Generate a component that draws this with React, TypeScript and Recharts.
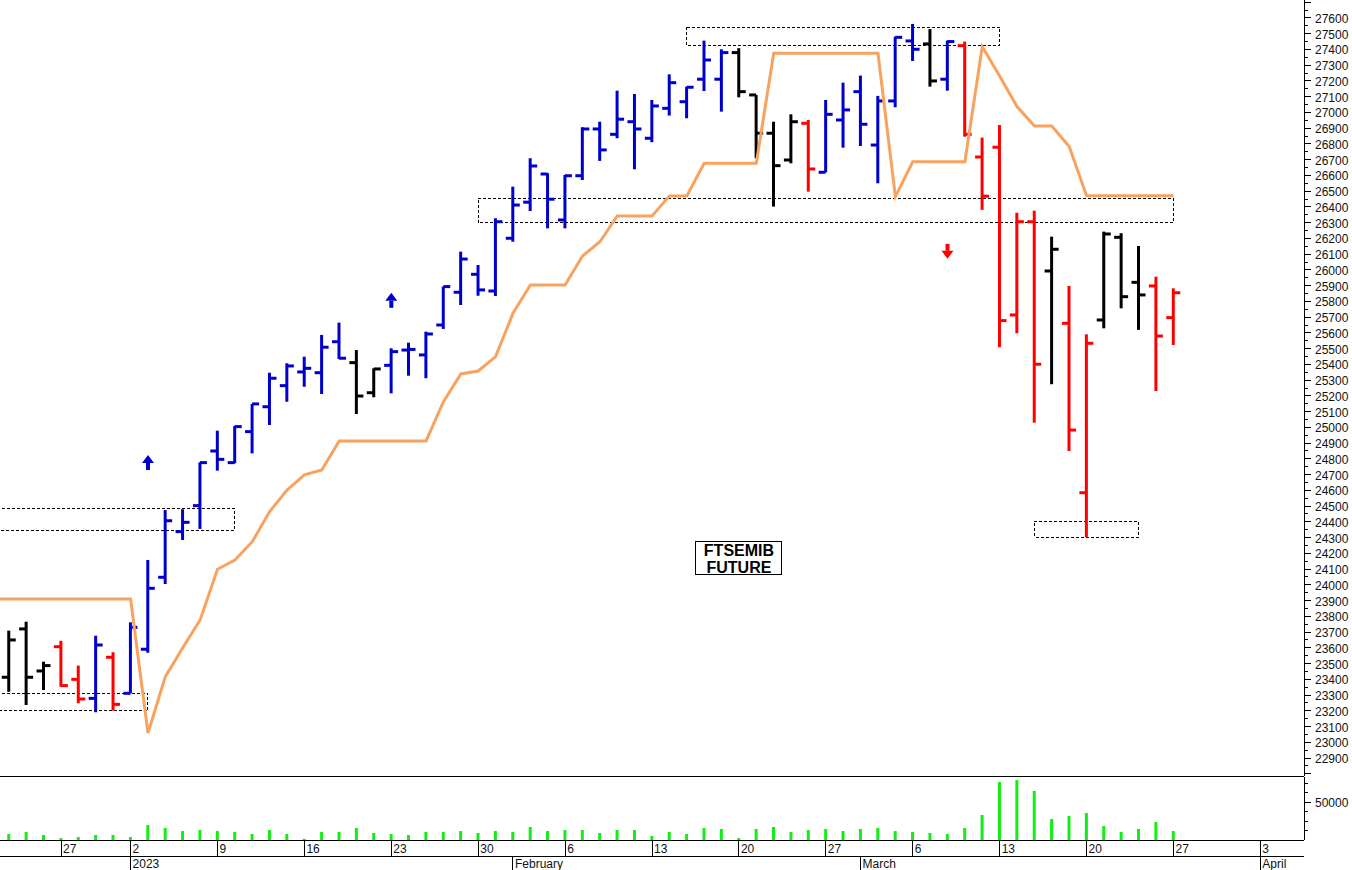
import React from "react";
import {
  ComposedChart,
  Bar,
  Line,
  XAxis,
  YAxis,
  CartesianGrid,
  ReferenceArea,
  ReferenceDot,
} from "recharts";

// ---------------- DATA ----------------
const tradingDays = [
  "2022-12-20", "2022-12-21", "2022-12-22", "2022-12-23", "2022-12-27", "2022-12-28", "2022-12-29", "2022-12-30",
  "2023-01-02", "2023-01-03", "2023-01-04", "2023-01-05", "2023-01-06",
  "2023-01-09", "2023-01-10", "2023-01-11", "2023-01-12", "2023-01-13",
  "2023-01-16", "2023-01-17", "2023-01-18", "2023-01-19", "2023-01-20",
  "2023-01-23", "2023-01-24", "2023-01-25", "2023-01-26", "2023-01-27",
  "2023-01-30", "2023-01-31", "2023-02-01", "2023-02-02", "2023-02-03",
  "2023-02-06", "2023-02-07", "2023-02-08", "2023-02-09", "2023-02-10",
  "2023-02-13", "2023-02-14", "2023-02-15", "2023-02-16", "2023-02-17",
  "2023-02-20", "2023-02-21", "2023-02-22", "2023-02-23", "2023-02-24",
  "2023-02-27", "2023-02-28", "2023-03-01", "2023-03-02", "2023-03-03",
  "2023-03-06", "2023-03-07", "2023-03-08", "2023-03-09", "2023-03-10",
  "2023-03-13", "2023-03-14", "2023-03-15", "2023-03-16", "2023-03-17",
  "2023-03-20", "2023-03-21", "2023-03-22", "2023-03-23", "2023-03-24",
  "2023-03-27",
];

const openPrices = [
  23450, 23413, 23720, 23453, 23607, 23400, 23279, 23540,
  23311, 23591, 24048, 24338, 24503,
  24850, 24776, 24973, 25131, 25265,
  25352, 25347, 25544, 25411, 25220,
  25394, 25491, 25460, 25650, 25858,
  25972, 25866, 26201, 26430, 26609,
  26317, 26598, 26895, 26861, 26941,
  26836, 27026, 27068, 27211, 27211,
  27380, 27111, 26868, 26698, 26931,
  26620, 26952, 27132, 26793, 27073,
  27454, 27435, 27211, 27424, 26717,
  26779, 25714, 26306, 25993, 25661,
  24585, 25682, 26207, 25921, 25898,
  25697,
];

const highPrices = [
  23500, 23709, 23766, 23512, 23645, 23487, 23677, 23572,
  23762, 24158, 24475, 24480, 24778,
  24979, 25009, 25149, 25347, 25407,
  25449, 25587, 25665, 25491, 25375,
  25502, 25538, 25608, 25894, 26116,
  26031, 26328, 26529, 26709, 26614,
  26603, 26906, 26941, 27138, 27117,
  27079, 27242, 27164, 27456, 27401,
  27408, 27111, 26941, 26988, 26952,
  27079, 27189, 27234, 27105, 27481,
  27562, 27530, 27456, 27450, 26840,
  26920, 26363, 26376, 26211, 25898,
  25591, 26243, 26233, 26152, 25957,
  25883,
];

const lowPrices = [
  23280, 23321, 23237, 23332, 23353, 23248, 23191, 23201,
  23311, 23569, 24005, 24285, 24355,
  24725, 24772, 24835, 25015, 25163,
  25258, 25212, 25434, 25085, 25191,
  25216, 25328, 25312, 25625, 25777,
  25836, 25834, 26179, 26374, 26264,
  26264, 26571, 26692, 26836, 26639,
  26811, 26980, 26963, 27136, 27005,
  27096, 26709, 26402, 26677, 26497,
  26620, 26776, 26787, 26550, 27033,
  27327, 27164, 27138, 26846, 26381,
  25509, 25598, 25030, 25274, 24850,
  24302, 25629, 25756, 25619, 25231,
  25523,
];

const closePrices = [
  23315, 23650, 23413, 23487, 23360, 23275, 23618, 23241,
  23730, 23978, 24407, 24397, 24776,
  24797, 25005, 25149, 25312, 25390,
  25375, 25509, 25439, 25199, 25371,
  25481, 25495, 25593, 25894, 26069,
  25873, 26306, 26412, 26660, 26449,
  26598, 26895, 26762, 26957, 26895,
  27041, 27189, 27160, 27333, 27380,
  27132, 26868, 26662, 26941, 26641,
  26988, 27016, 26925, 27073, 27477,
  27401, 27200, 27450, 26861, 26468,
  25678, 26306, 25401, 26131, 24983,
  25534, 26228, 25830, 25841, 25580,
  25855,
];

// b = blue, k = black, r = red
const barTone = (
  "rkkkrrbr" +
  "bbbbb" + "bbbbb" + "bbbkk" + "bbbbb" + "bbbbb" + "bbbbb" + "bbbbb" +
  "kkkkr" + "bbbbb" + "bkbrr" + "rrrkr" + "rkkkr" + "r"
).split("");

const stopLevel = [
  23910, 23910, 23910, 23910, 23910, 23910, 23910, 23910,
  23910, 23059, 23417, 23600, 23777,
  24099, 24158, 24274, 24465, 24602,
  24698, 24729, 24914, 24914, 24914,
  24914, 24914, 24914, 25163, 25339,
  25358, 25449, 25725, 25904, 25904,
  25904, 26088, 26179, 26343, 26343,
  26343, 26470, 26470, 26677, 26677,
  26677, 26677, 27376, 27376, 27376,
  27376, 27376, 27376, 27376, 26465,
  26687, 26687, 26687, 26687, 27418,
  27232, 27037, 26914, 26914, 26783,
  26471, 26471, 26471, 26471, 26471,
  26471,
];

const volume = [
  8000, 7900, 10500, 6600, 2600, 3900, 6600, 6600,
  3900, 19700, 15800, 11800, 13200,
  11800, 10500, 7900, 13200, 7900,
  1500, 10500, 10500, 15800, 9200,
  7900, 6600, 10500, 10500, 11800,
  9200, 11800, 10500, 17100, 11800,
  13200, 13200, 9200, 13200, 13200,
  5300, 10500, 7900, 15800, 14500,
  2600, 14500, 17100, 10500, 13200,
  14500, 11800, 14500, 15800, 11800,
  10500, 9200, 7900, 15800, 32900,
  76300, 79000, 64500, 27600, 31600,
  35500, 18400, 10500, 14500, 23700,
  11800,
];

// position of first trading day relative to 2 Jan 2023 (index 0)
const FIRST_IDX = -8;

const weekTickIdx = [-4, 0, 5, 10, 15, 20, 25, 30, 35, 40, 45, 50, 55, 60, 65];
const weekTickLabels = ["27", "2", "9", "16", "23", "30", "6", "13", "20", "27", "6", "13", "20", "27", "3"];
const monthTickIdx = [0, 22, 42, 65];
const monthTickLabels = ["2023", "February", "March", "April"];

const boxes = [
  { x1: -10, x2: 6, y1: 24348, y2: 24482 },
  { x1: -10, x2: 1, y1: 23199, y2: 23311 },
  { x1: 20, x2: 60, y1: 26300, y2: 26455 },
  { x1: 32, x2: 50, y1: 27422, y2: 27541 },
  { x1: 52, x2: 58, y1: 24302, y2: 24401 },
];

const arrows = [
  { i: 1, price: 24777, dir: "up", tone: "b" },
  { i: 15, price: 25807, dir: "up", tone: "b" },
  { i: 47, price: 26118, dir: "down", tone: "r" },
];

const titleLines = ["FTSEMIB", "FUTURE"];
const titleAt = { i: 35, price: 24168 };

// ---------------- CONFIG ----------------
const X_DOMAIN: [number, number] = [-7.514, 67.51];
const PRICE_DOMAIN: [number, number] = [22786, 27714];
const VOL_DOMAIN: [number, number] = [0, 82900];

const priceTicks: number[] = [];
for (let v = 22800; v <= 27700; v += 50) priceTicks.push(v);
const volTicks = [12500, 25000, 37500, 50000, 62500, 75000];

const TONE: Record<string, string> = { b: "#0000CD", k: "#000000", r: "#FF0000" };
const FONT = "'Liberation Sans', Arial, sans-serif";
const GRID = "#DADADA";

const rows = tradingDays.map((d, k) => ({
  i: k + FIRST_IDX,
  date: d,
  open: openPrices[k],
  high: highPrices[k],
  low: lowPrices[k],
  close: closePrices[k],
  tone: barTone[k],
  stop: stopLevel[k],
  vol: volume[k],
}));

// grid only at the week ticks, positioned through the axis' own scale
const weekGrid = (props: any) => {
  const s = props && props.xAxis && props.xAxis.scale;
  if (typeof s !== "function") return [];
  return weekTickIdx.map((v) => s(v));
};

// ---------------- SHAPES ----------------
const OhlcShape = (props: any) => {
  const { x, y, width, height, payload } = props;
  if (x == null || y == null || !payload) return null;
  const cx = x + width / 2;
  const top = Math.min(y, y + height);
  const bot = Math.max(y, y + height);
  const span = payload.high - payload.low;
  const toY = (v: number) => (span === 0 ? top : top + ((payload.high - v) / span) * (bot - top));
  const c = TONE[payload.tone];
  const oy = toY(payload.open);
  const cy = toY(payload.close);
  return (
    <g>
      <line x1={cx} x2={cx} y1={top} y2={bot} stroke={c} strokeWidth={3} />
      <line x1={cx - 7} x2={cx} y1={oy} y2={oy} stroke={c} strokeWidth={3} />
      <line x1={cx} x2={cx + 7} y1={cy} y2={cy} stroke={c} strokeWidth={3} />
    </g>
  );
};

const Arrow = ({ cx, cy, dir, color }: any) => {
  const s = dir === "up" ? -1 : 1;
  const tipY = cy + s * 7.5;
  const baseY = tipY - s * 8;
  const endY = cy - s * 7.5;
  return (
    <g>
      <polygon points={`${cx},${tipY} ${cx - 6},${baseY} ${cx + 6},${baseY}`} fill={color} />
      <rect x={cx - 2} y={Math.min(baseY, endY)} width={4} height={Math.abs(endY - baseY)} fill={color} />
    </g>
  );
};

const TitleBox = ({ cx, cy }: any) => (
  <g>
    <rect x={cx - 43} y={cy - 16.5} width={86} height={33} fill="#fff" stroke="#000" strokeWidth={1} shapeRendering="crispEdges" />
    <text x={cx} y={cy - 2.3} textAnchor="middle" fontSize={16} fontWeight="bold" fontFamily={FONT} fill="#000">
      {titleLines[0]}
    </text>
    <text x={cx} y={cy + 14.7} textAnchor="middle" fontSize={16} fontWeight="bold" fontFamily={FONT} fill="#000">
      {titleLines[1]}
    </text>
  </g>
);

const EmptyTick = () => <g />;

const PriceTick = (props: any) => {
  const { x, y, payload } = props;
  const v = payload.value;
  const major = v % 100 === 0;
  const axisX = x - 11;
  const label = major && v >= 22900 && v <= 27600;
  return (
    <g>
      <line x1={axisX} x2={axisX + (major ? 7 : 4)} y1={y} y2={y} stroke="#000" shapeRendering="crispEdges" />
      {label && (
        <text x={x} y={y} dy={5} fontSize={12} fontFamily={FONT} fill="#111">
          {v}
        </text>
      )}
    </g>
  );
};

const VolTick = (props: any) => {
  const { x, y, payload } = props;
  const v = payload.value;
  const major = v === 50000;
  const axisX = x - 11;
  return (
    <g>
      <line x1={axisX} x2={axisX + (major ? 7 : 4)} y1={y} y2={y} stroke="#000" shapeRendering="crispEdges" />
      {major && (
        <text x={x} y={y} dy={5} fontSize={12} fontFamily={FONT} fill="#111">
          {v}
        </text>
      )}
    </g>
  );
};

const DateTick = (props: any) => {
  const { x, y, payload } = props;
  const k = weekTickIdx.indexOf(payload.value);
  return (
    <g>
      <line x1={x} x2={x} y1={y} y2={y + 16} stroke="#000" shapeRendering="crispEdges" />
      <text x={x + 2} y={y + 13} fontSize={12} fontFamily={FONT} fill="#111">
        {weekTickLabels[k]}
      </text>
    </g>
  );
};

const MonthTick = (props: any) => {
  const { x, y, payload } = props;
  const k = monthTickIdx.indexOf(payload.value);
  return (
    <g>
      <line x1={x} x2={x} y1={y} y2={y + 14} stroke="#000" shapeRendering="crispEdges" />
      <text x={x + 2} y={y + 12} fontSize={12} fontFamily={FONT} fill="#111">
        {monthTickLabels[k]}
      </text>
    </g>
  );
};

// ---------------- APP ----------------
export default function App() {
  return (
    <div
      style={{
        position: "absolute",
        left: 0,
        top: 0,
        width: 1352,
        height: 870,
        background: "#fff",
        overflow: "hidden",
      }}
    >
      <ComposedChart width={1352} height={777} data={rows} margin={{ top: 0, right: 0, bottom: 0, left: 0 }}>
        <XAxis
          type="number"
          dataKey="i"
          domain={X_DOMAIN}
          allowDataOverflow
          ticks={weekTickIdx}
          interval={0}
          height={1}
          tickSize={0}
          tickMargin={0}
          tick={<EmptyTick />}
          tickLine={false}
          axisLine={{ stroke: "#000", shapeRendering: "crispEdges" }}
        />
        <YAxis
          orientation="right"
          type="number"
          domain={PRICE_DOMAIN}
          allowDataOverflow
          ticks={priceTicks}
          interval={0}
          width={48}
          tickSize={8}
          tickMargin={3}
          tickLine={false}
          axisLine={{ stroke: "#000", shapeRendering: "crispEdges" }}
          tick={<PriceTick />}
        />
        <CartesianGrid
          horizontal={false}
          vertical
          stroke={GRID}
          strokeDasharray="4 4"
          verticalCoordinatesGenerator={weekGrid}
        />
        {boxes.map((b, k) => (
          <ReferenceArea
            key={"box" + k}
            x1={b.x1}
            x2={b.x2}
            y1={b.y1}
            y2={b.y2}
            fill="none"
            fillOpacity={0}
            stroke="#000"
            strokeWidth={1}
            strokeDasharray="3 2"
            ifOverflow="hidden"
            shapeRendering="crispEdges"
          />
        ))}
        <Line
          type="linear"
          dataKey="stop"
          stroke="#F8A260"
          strokeWidth={3}
          dot={false}
          activeDot={false}
          isAnimationActive={false}
        />
        <Bar
          dataKey={(d: any) => [d.low, d.high]}
          barSize={7}
          shape={(p: any) => <OhlcShape {...p} />}
          isAnimationActive={false}
        />
        {arrows.map((a, k) => (
          <ReferenceDot
            key={"arr" + k}
            x={a.i}
            y={a.price}
            r={1}
            ifOverflow="visible"
            shape={(p: any) => <Arrow cx={p.cx} cy={p.cy} dir={a.dir} color={TONE[a.tone]} />}
          />
        ))}
        <ReferenceDot
          x={titleAt.i}
          y={titleAt.price}
          r={1}
          ifOverflow="visible"
          shape={(p: any) => <TitleBox cx={p.cx} cy={p.cy} />}
        />
      </ComposedChart>
      <ComposedChart width={1352} height={93} data={rows} margin={{ top: 0, right: 0, bottom: 0, left: 0 }}>
        <XAxis
          xAxisId="d"
          type="number"
          dataKey="i"
          domain={X_DOMAIN}
          allowDataOverflow
          ticks={weekTickIdx}
          interval={0}
          tickSize={0}
          tickMargin={0}
          height={16}
          tickLine={false}
          axisLine={{ stroke: "#000", shapeRendering: "crispEdges" }}
          tick={<DateTick />}
        />
        <XAxis
          xAxisId="m"
          type="number"
          dataKey="i"
          domain={X_DOMAIN}
          allowDataOverflow
          ticks={monthTickIdx}
          interval={0}
          tickSize={0}
          tickMargin={0}
          height={14}
          tickLine={false}
          axisLine={{ stroke: "#000", shapeRendering: "crispEdges" }}
          tick={<MonthTick />}
        />
        <YAxis
          orientation="right"
          type="number"
          domain={VOL_DOMAIN}
          allowDataOverflow
          ticks={volTicks}
          interval={0}
          width={48}
          tickSize={8}
          tickMargin={3}
          tickLine={false}
          axisLine={{ stroke: "#000", shapeRendering: "crispEdges" }}
          tick={<VolTick />}
        />
        <CartesianGrid
          xAxisId="d"
          horizontal={false}
          vertical
          stroke={GRID}
          strokeDasharray="4 4"
          verticalCoordinatesGenerator={weekGrid}
        />
        <Bar xAxisId="d" dataKey="vol" barSize={3} fill="#11EE11" isAnimationActive={false} />
      </ComposedChart>
    </div>
  );
}
